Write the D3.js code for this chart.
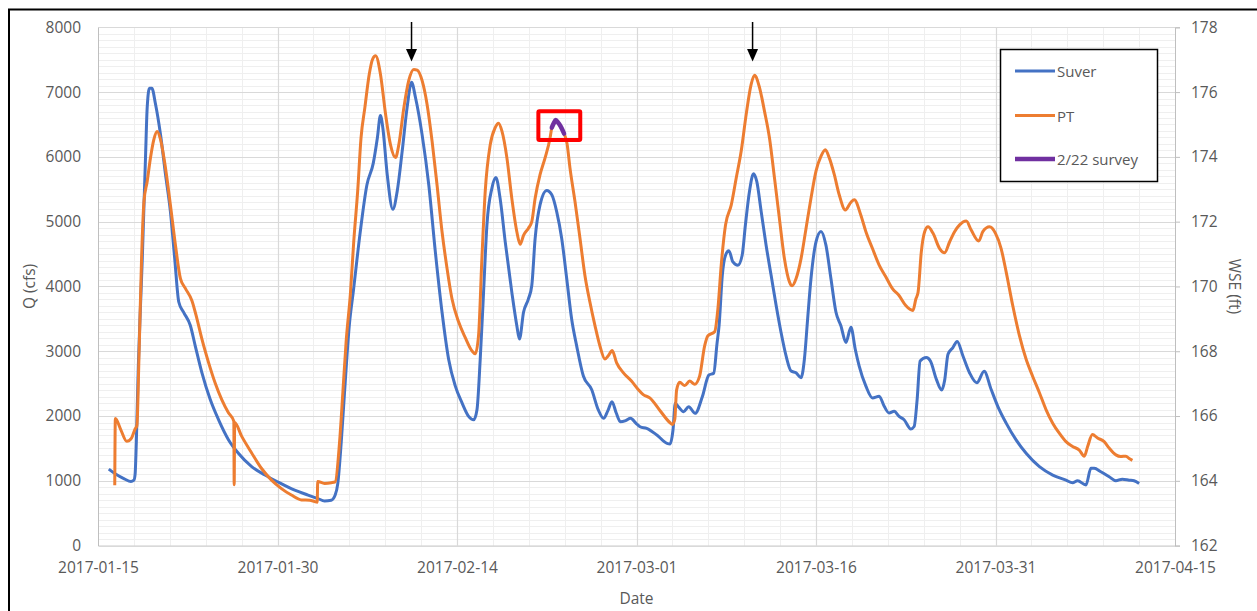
<!DOCTYPE html>
<html>
<head>
<meta charset="utf-8">
<script src="https://cdn.jsdelivr.net/npm/d3@7"></script>
<style>
  html, body { margin: 0; padding: 0; background: #fff; }
  svg { display: block; }
  text { font-family: "Open Sans", "Liberation Sans", sans-serif; fill: #595959; }
</style>
</head>
<body>
<svg id="chart" width="1257" height="611"></svg>
<script>
// ---------------- DATA (days after 2017-01-15 00:00) ----------------
const startDate = "2017-01-15";
const endDate = "2017-04-15";

const suverDay = [0.9,1.5,2.2,2.75,3.0,3.1,3.2,3.37,3.55,3.7,3.85,3.97,4.11,4.3,4.5,4.8,5.22,5.64,6.05,6.41,6.75,7.16,7.71,8.13,8.68,9.38,10.07,10.9,11.73,12.84,13.95,15.0,16.44,17.55,18.38,18.93,19.49,19.82,20.04,20.32,20.6,21.0,21.35,21.9,22.47,23.0,23.35,23.6,23.8,24.17,24.64,25.0,25.42,25.83,26.2,26.53,27.08,27.64,28.19,28.75,29.3,29.86,30.42,30.97,31.4,31.67,31.94,32.22,32.5,32.92,33.25,33.6,34.03,34.58,35.0,35.22,35.56,35.97,36.25,36.53,36.94,37.5,37.92,38.33,38.75,39.17,39.58,40.0,40.56,41.25,41.8,42.25,42.6,42.95,43.3,43.65,44.1,44.5,45.0,45.3,45.85,46.7,47.55,47.8,48.05,48.24,48.5,48.94,49.36,49.9,50.5,51.05,51.45,51.73,51.9,52.17,52.44,52.72,53.06,53.47,53.83,54.1,54.44,54.78,55.05,55.42,55.83,56.25,56.67,57.08,57.5,57.92,58.33,58.75,59.03,59.3,59.58,60.0,60.42,60.83,61.25,61.67,62.08,62.5,62.92,63.28,63.61,64.17,64.72,65.28,65.7,66.11,66.53,66.94,67.36,67.92,68.2,68.45,68.7,69.22,69.56,70.06,70.5,70.75,71.03,71.44,71.8,72.28,72.83,73.44,74.05,74.64,75.19,75.89,76.72,77.56,78.67,79.78,80.89,81.44,81.86,82.56,82.97,83.25,83.8,84.5,85.06,85.6,86.17,86.58,87.0];
const suverQ = [1180,1100,1030,990,1010,1100,1580,2770,3700,4430,5300,5990,6760,7060,7060,6820,6350,5730,5160,4430,3760,3600,3400,3080,2670,2255,1945,1635,1425,1220,1090,985,855,780,726,690,700,780,960,1580,2360,3400,3945,4820,5566,5900,6300,6640,6450,5725,5190,5466,6088,6760,7150,6917,6347,5570,4534,3601,2876,2461,2202,1995,1943,2098,2876,3912,4948,5518,5680,5363,4689,3912,3394,3187,3601,3808,4015,4741,5259,5480,5414,5155,4741,4119,3497,3083,2617,2409,2098,1964,2080,2221,2050,1912,1930,1964,1880,1835,1809,1707,1578,1568,1784,2196,2144,2067,2144,2041,2298,2633,2660,3122,3394,4171,4482,4550,4378,4326,4482,4948,5466,5740,5622,5155,4637,4171,3705,3290,2927,2694,2668,2591,2876,3497,4119,4689,4850,4637,4119,3601,3394,3135,3370,3031,2772,2461,2280,2306,2150,2046,2073,1995,1943,1800,1839,2250,2850,2902,2850,2565,2400,2550,2953,3057,3150,2927,2668,2513,2690,2409,2150,1891,1632,1425,1218,1088,1010,969,1000,935,1192,1192,1140,1062,1000,1026,1010,1000,960];

const ptDay = [1.40,1.45,1.9,2.4,2.8,3.1,3.25,3.42,3.64,3.84,4.11,4.39,4.67,4.94,5.22,5.64,6.05,6.47,6.89,7.3,7.85,8.27,8.68,9.24,9.79,10.35,10.9,11.35,11.38,11.42,12.0,12.84,13.67,14.5,15.33,16.16,17.0,17.7,18.1,18.32,18.36,18.93,19.49,19.82,20.18,20.46,20.73,21.1,21.37,21.7,21.98,22.3,22.67,22.95,23.2,23.6,24.03,24.44,24.86,25.14,25.56,25.97,26.39,26.67,27.08,27.5,27.92,28.33,28.75,29.17,29.58,30.14,30.69,31.25,31.53,31.8,32.08,32.36,32.78,33.19,33.47,33.75,34.17,34.58,35.0,35.28,35.56,35.97,36.25,36.53,36.94,37.36,37.78,37.92,38.1,38.25,38.45,38.65,38.95,39.2,39.44,39.86,40.28,40.69,41.11,41.53,41.94,42.36,42.64,42.97,43.33,43.89,44.58,45.14,45.56,46.11,46.94,47.78,48.0,48.2,48.35,48.61,49.03,49.44,49.86,50.28,50.69,50.97,51.53,51.8,52.08,52.44,52.92,53.33,53.75,54.17,54.58,54.86,55.28,55.69,56.11,56.53,56.94,57.36,57.78,58.0,58.33,58.75,59.17,59.58,60.0,60.42,60.78,61.11,61.53,61.94,62.45,62.92,63.2,63.75,64.17,64.72,65.28,65.83,66.39,66.94,67.5,68.1,68.35,68.53,68.8,69.08,69.36,69.78,70.33,70.75,71.17,71.58,72.0,72.56,72.97,73.6,73.94,74.5,75.0,75.47,75.89,76.44,77.0,77.56,78.1,78.67,79.22,79.78,80.33,80.89,81.44,82.0,82.42,82.7,83.1,83.53,84.08,84.5,85.06,85.47,85.9,86.17,86.44];
const ptWSE = [163.86,165.92,165.58,165.22,165.32,165.60,165.70,167.76,170.86,172.62,173.24,173.98,174.54,174.78,174.54,173.66,172.52,171.28,170.24,169.94,169.56,169.00,168.38,167.65,167.02,166.50,166.10,165.84,163.88,165.80,165.38,164.86,164.38,164.02,163.76,163.56,163.41,163.40,163.36,163.34,163.98,163.92,163.94,163.97,165.16,166.72,168.27,169.82,171.38,172.94,174.59,175.52,176.56,177.02,177.12,176.56,175.32,174.38,173.98,174.38,175.52,176.36,176.70,176.68,176.36,175.62,174.48,173.14,171.69,170.55,169.62,168.90,168.42,168.01,167.92,168.48,170.86,172.94,174.38,174.90,175.04,174.80,173.97,172.72,171.69,171.30,171.58,171.80,172.00,172.72,173.45,173.97,174.59,174.90,175.05,175.14,175.06,174.95,174.72,174.40,173.66,172.62,171.48,170.34,169.51,168.79,168.17,167.76,167.86,168.02,167.65,167.34,167.08,166.82,166.66,166.56,166.18,165.80,165.74,165.90,166.80,167.04,166.94,167.08,166.98,167.24,168.16,168.48,168.60,169.30,170.66,171.90,172.52,173.34,174.18,175.32,176.24,176.52,176.14,175.42,174.59,173.35,172.10,170.86,170.14,170.02,170.24,170.86,171.80,172.72,173.56,174.02,174.22,173.97,173.45,172.83,172.36,172.60,172.68,172.20,171.69,171.17,170.66,170.30,169.93,169.72,169.41,169.26,169.62,169.82,171.07,171.69,171.84,171.64,171.17,171.04,171.38,171.69,171.90,172.02,171.74,171.40,171.69,171.84,171.64,171.17,170.45,169.41,168.48,167.75,167.23,166.72,166.20,165.78,165.47,165.21,165.06,164.95,164.76,165.06,165.43,165.32,165.21,165.01,164.80,164.75,164.76,164.69,164.63];

const surveyDay = [37.92,38.1,38.25,38.45,38.65,38.95];
const surveyWSE = [174.90,175.05,175.14,175.06,174.95,174.72];

// annotations (data space)
const arrowDays = [26.2, 54.7];
const boxDays = [36.8, 40.3];
const boxWSE = [174.52, 175.41];

const qTicks = [0,1000,2000,3000,4000,5000,6000,7000,8000];
const wseTicks = [162,164,166,168,170,172,174,176,178];
const dateTicks = ["2017-01-15","2017-01-30","2017-02-14","2017-03-01","2017-03-16","2017-03-31","2017-04-15"];
const seriesNames = ["Suver", "PT", "2/22 survey"];
const seriesColors = ["#4472C4", "#ED7D31", "#7030A0"];

// ---------------- DRAW ----------------
const svg = d3.select("#chart");
const L = 98, R = 1175, T = 27.3, B = 545.6;
const t0 = d3.isoParse(startDate + "T00:00:00Z");
const toDate = d => new Date(t0.getTime() + d * 864e5);

const x = d3.scaleUtc().domain([t0, d3.isoParse(endDate + "T00:00:00Z")]).range([L, R]);
const yL = d3.scaleLinear().domain([0, 8000]).range([B, T]);
const yR = d3.scaleLinear().domain([162, 178]).range([B, T]);

svg.append("rect").attr("width", 1257).attr("height", 611).attr("fill", "#fff");

// gridlines
const g = svg.append("g");
const minorY = d3.range(0, 8001, 100).filter(v => v % 1000 !== 0);
g.selectAll(".hmin").data(minorY).join("line")
  .attr("x1", L).attr("x2", R).attr("y1", d => Math.round(yL(d)) + 0.5).attr("y2", d => Math.round(yL(d)) + 0.5)
  .attr("stroke", "#efefef").attr("stroke-width", 1);
const minorX = d3.range(3, 90, 3).filter(v => v % 15 !== 0);
g.selectAll(".vmin").data(minorX).join("line")
  .attr("x1", d => Math.round(x(toDate(d))) + 0.5).attr("x2", d => Math.round(x(toDate(d))) + 0.5)
  .attr("y1", T).attr("y2", B).attr("stroke", "#efefef").attr("stroke-width", 1);
g.selectAll(".hmaj").data(qTicks.slice(1)).join("line")
  .attr("x1", L).attr("x2", R).attr("y1", d => Math.round(yL(d)) + 0.5).attr("y2", d => Math.round(yL(d)) + 0.5)
  .attr("stroke", "#d9d9d9").attr("stroke-width", 1.2);
g.selectAll(".vmaj").data(dateTicks.slice(1, -1)).join("line")
  .attr("x1", d => Math.round(x(d3.isoParse(d + "T00:00:00Z"))) + 0.5)
  .attr("x2", d => Math.round(x(d3.isoParse(d + "T00:00:00Z"))) + 0.5)
  .attr("y1", T).attr("y2", B).attr("stroke", "#d9d9d9").attr("stroke-width", 1.2);

// axes
const fs = "15.5px";
const axL = svg.append("g").attr("transform", `translate(${L},0)`)
  .call(d3.axisLeft(yL).tickValues(qTicks).tickSize(0).tickPadding(17).tickFormat(d3.format("d")));
axL.select(".domain").attr("stroke", "#bfbfbf");
const axR = svg.append("g").attr("transform", `translate(${R},0)`)
  .call(d3.axisRight(yR).tickValues(wseTicks).tickSize(5).tickPadding(11).tickFormat(d3.format("d")));
axR.select(".domain").attr("stroke", "#bfbfbf");
axR.selectAll(".tick line").attr("stroke", "#bfbfbf");
const axB = svg.append("g").attr("transform", `translate(0,${B})`)
  .call(d3.axisBottom(x).tickValues(dateTicks.map(d => d3.isoParse(d + "T00:00:00Z"))).tickSize(0).tickPadding(16)
    .tickFormat(d3.utcFormat("%Y-%m-%d")));
axB.select(".domain").attr("stroke", "#bfbfbf");
svg.selectAll(".tick text").attr("font-size", fs).attr("fill", "#595959")
  .attr("font-family", '"Open Sans", "Liberation Sans", sans-serif');

// axis titles
svg.append("text").attr("transform", `translate(29,${(T + B) / 2}) rotate(-90)`)
  .attr("text-anchor", "middle").attr("dominant-baseline", "central").attr("font-size", fs).text("Q (cfs)");
svg.append("text").attr("transform", `translate(1235,${(T + B) / 2}) rotate(90)`)
  .attr("text-anchor", "middle").attr("dominant-baseline", "central").attr("font-size", fs).text("WSE (ft)");
svg.append("text").attr("x", (L + R) / 2).attr("y", 604)
  .attr("text-anchor", "middle").attr("font-size", fs).text("Date");

// lines
const curve = d3.curveMonotoneX;
const suverLine = d3.line().curve(curve).x((d, i) => x(toDate(suverDay[i]))).y(d => yL(d));
const ptLine = d3.line().curve(curve).x((d, i) => x(toDate(ptDay[i]))).y(d => yR(d));
const survLine = d3.line().curve(curve).x((d, i) => x(toDate(surveyDay[i]))).y(d => yR(d));
svg.append("path").datum(suverQ).attr("d", suverLine).attr("fill", "none")
  .attr("stroke", seriesColors[0]).attr("stroke-width", 3).attr("stroke-linejoin", "round");
svg.append("path").datum(ptWSE).attr("d", ptLine).attr("fill", "none")
  .attr("stroke", seriesColors[1]).attr("stroke-width", 3).attr("stroke-linejoin", "round");
svg.append("path").datum(surveyWSE).attr("d", survLine).attr("fill", "none")
  .attr("stroke", seriesColors[2]).attr("stroke-width", 4.5).attr("stroke-linejoin", "round").attr("stroke-linecap", "round");

// red box
const bx0 = x(toDate(boxDays[0])), bx1 = x(toDate(boxDays[1]));
const by0 = yR(boxWSE[1]), by1 = yR(boxWSE[0]);
svg.append("rect").attr("x", bx0).attr("y", by0).attr("width", bx1 - bx0).attr("height", by1 - by0)
  .attr("fill", "none").attr("stroke", "#FF0000").attr("stroke-width", 4).attr("rx", 1);

// arrows
arrowDays.forEach(d => {
  const ax = x(toDate(d));
  svg.append("line").attr("x1", ax).attr("x2", ax).attr("y1", 22).attr("y2", 52)
    .attr("stroke", "#000").attr("stroke-width", 1.5);
  svg.append("path").attr("d", `M${ax - 5.5},49 L${ax + 5.5},49 L${ax},61.5 Z`).attr("fill", "#000");
});

// legend
const lg = svg.append("g");
lg.append("rect").attr("x", 1000.5).attr("y", 49.5).attr("width", 157).attr("height", 132)
  .attr("fill", "#fff").attr("stroke", "#000").attr("stroke-width", 1.5);
const legY = [71, 115.5, 159];
seriesNames.forEach((n, i) => {
  lg.append("line").attr("x1", 1015).attr("x2", 1055).attr("y1", legY[i]).attr("y2", legY[i])
    .attr("stroke", seriesColors[i]).attr("stroke-width", i === 2 ? 4.5 : 3);
  lg.append("text").attr("x", 1057).attr("y", legY[i]).attr("dominant-baseline", "central")
    .attr("font-size", "15px").text(n);
});

// outer frame (cut by the picture edges)
svg.append("rect").attr("x", 9).attr("y", 9.5).attr("width", 1300).attr("height", 700)
  .attr("fill", "none").attr("stroke", "#000").attr("stroke-width", 2);
</script>
</body>
</html>
